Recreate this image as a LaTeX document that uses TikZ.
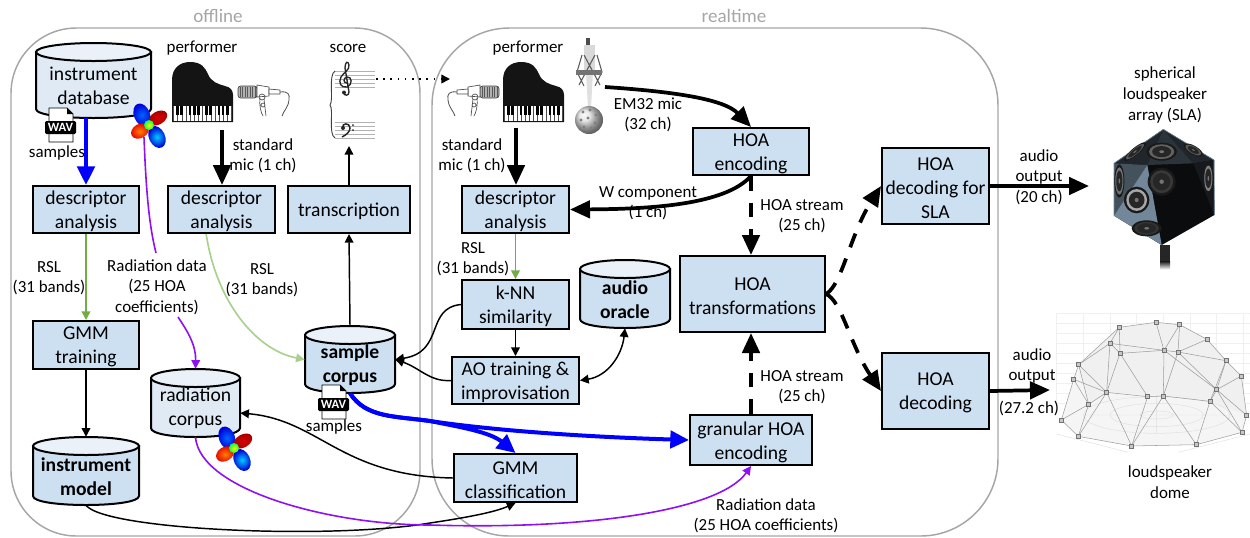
\documentclass[tikz,border=0pt]{standalone}
\usepackage{fontspec}
\setmainfont{Carlito}
\usetikzlibrary{arrows.meta,calc}
\definecolor{boxfill}{HTML}{CDE0F2}
\definecolor{cylpale}{HTML}{DFEAF5}
\definecolor{cyltop}{HTML}{EAF1F9}
\definecolor{frameg}{HTML}{A6A6A6}
\definecolor{blueflow}{HTML}{0000FF}
\definecolor{purpflow}{HTML}{8F10F5}
\definecolor{greenA}{HTML}{70AD47}
\definecolor{greenB}{HTML}{A9D18E}
\definecolor{slaA}{HTML}{20262C}
\definecolor{slaB}{HTML}{44525D}
\definecolor{slaC}{HTML}{72889A}
\definecolor{slaD}{HTML}{15191D}
\definecolor{slaE}{HTML}{0A0C0E}
\definecolor{slaF}{HTML}{2C343B}
\tikzset{
 boxst/.style={draw=black,line width=1.5pt,fill=boxfill,inner sep=0pt},
 boxtxt/.style={inner sep=0pt,align=center,font=\fontsize{14.7}{18}\selectfont},
 lbl/.style={inner sep=0pt,align=center,font=\fontsize{12.7}{15.4}\selectfont},
 framelbl/.style={inner sep=0pt,text=frameg,font=\fontsize{14.3}{17}\selectfont},
 framest/.style={draw=frameg,line width=1.1pt},
 thinarr/.style={draw=black,line width=1.1pt,-{Triangle[length=6.5pt,width=6.5pt]}},
 thinboth/.style={draw=black,line width=1.1pt,{Triangle[length=6.5pt,width=6.5pt]}-{Triangle[length=6.5pt,width=6.5pt]}},
 thickarr/.style={draw=black,line width=2.8pt,-{Triangle[length=15pt,width=13pt]}},
 dasharr/.style={thickarr,dash pattern=on 11pt off 9pt},
 bluearr/.style={draw=blueflow,line width=3pt,-{Triangle[length=14pt,width=13pt]}},
 purparr/.style={draw=purpflow,line width=1.2pt,-{Triangle[length=6.5pt,width=6.5pt]}},
 purpline/.style={draw=purpflow,line width=1.2pt},
 grnA/.style={draw=greenA,line width=1.25pt,-{Triangle[length=6.5pt,width=6.5pt]}},
 grnB/.style={draw=greenB,line width=1.25pt,-{Triangle[length=6.5pt,width=6.5pt]}},
 pics/wavicon/.style={code={
   \filldraw[fill=white,draw=black,line width=.7pt] (4,0) -- (22,0) -- (28,6) -- (28,34) -- (4,34) -- cycle;
   \fill[black] (22,0) -- (28,6) -- (22,6) -- cycle;
   \fill[black,rounded corners=1pt] (0,13) rectangle (31,26);
   \node[inner sep=0pt,text=white,font=\fontsize{9.5}{10}\selectfont\bfseries] (-txt) at (15.5,19.5) {WAV};
 }},
 pics/lobes/.style={code={
   \path[inner color=blue!60!cyan,outer color=blue!85!black] (-7,-10) ellipse [x radius=8,y radius=12,rotate=22];
   \path[inner color=red!85!black,outer color=red!65!black] (9,-7) ellipse [x radius=10,y radius=6.5,rotate=30];
   \path[inner color=orange,outer color=red!90!black] (-9,6) ellipse [x radius=9.5,y radius=7,rotate=30];
   \path[inner color=cyan!80!blue,outer color=blue!85!black] (8,12) ellipse [x radius=8,y radius=11.5,rotate=25];
   \path[inner color=yellow,outer color=green!70!cyan] (0,0) circle [radius=5];
 }},
 pics/pianoicon/.style={code={
   \fill[black!92] (0,60) -- (0,18) .. controls (0,6) and (8,0) .. (18,0) .. controls (30,0) and (33,6) .. (36,12) .. controls (39,20) and (46,22) .. (53,24) .. controls (58,25) and (61,28) .. (61,33) -- (61,60) -- cycle;
   \fill[white] (1.5,44) rectangle (59.5,58.5);
   \foreach \k in {0,...,14}{\draw[black!70,line width=.35pt] ({1.5+\k*4.14},44) -- ({1.5+\k*4.14},58.5);}
   \foreach \k in {1,2,4,5,6,8,9,11,12,13}{\fill[black] ({1.5+\k*4.14-1.3},44) rectangle ({1.5+\k*4.14+1.3},52.5);}
 }},
 pics/micicon/.style={code={
   \filldraw[fill=black!30,draw=black!75,line width=.5pt,rounded corners=2pt] (0,1) rectangle (19,13);
   \foreach \k in {2,4.5,...,17}{\draw[black!65,line width=.35pt] (\k,2) -- (\k,12);}
   \filldraw[fill=white,draw=black!70,line width=.5pt] (19,0) -- (31,2) -- (31,11) -- (19,12) -- cycle;
   \filldraw[fill=white,draw=black!70,line width=.5pt] (31,4) -- (42,5) -- (42,9) -- (31,9) -- cycle;
   \draw[black!70,line width=.6pt] (42,7) .. controls (50,6) and (52,9) .. (51,15) .. controls (50,23) and (46,25) .. (44,31);
   \draw[black!70,line width=.5pt] (24,12) circle [radius=3];
   \draw[black!70,line width=.5pt] (22,13) .. controls (21,20) and (23,28) .. (25,31) (26,14) -- (28,31) (25,20) circle [radius=2];
 }}
}
\newcommand{\pxbox}[6]{%
 \pgfmathsetmacro\cxx{(#2+#4)/2}\pgfmathsetmacro\cyy{(#3+#5)/2}%
 \pgfmathsetmacro\ww{(#4-#2)*.75}\pgfmathsetmacro\hh{(#5-#3)*.75}%
 \node[boxst,minimum width=\ww pt,minimum height=\hh pt] (#1) at (\cxx,\cyy) {};
 \node[boxtxt] (#1-t) at ([yshift=-1.6pt]#1.center) {#6};}
\newcommand{\pxcyl}[8]{%
 \pgfmathsetmacro\cxx{(#4+#6)/2}\pgfmathsetmacro\cyy{(#5+#7)/2}%
 \pgfmathsetmacro\ww{(#6-#4)*.75}\pgfmathsetmacro\hh{(#7-#5)*.75}%
 \pgfmathsetmacro\yt{#5+9}\pgfmathsetmacro\yb{#7-9}\pgfmathsetmacro\yc{#7+3}%
 \filldraw[fill=#1,draw=black,line width=1.5pt] (#4,\yt) -- (#4,\yb) .. controls (#4,\yc) and (#6,\yc) .. (#6,\yb) -- (#6,\yt) -- cycle;
 \filldraw[fill=#2,draw=black,line width=1.5pt] (\cxx,\yt) ellipse [x radius=\cxx-#4,y radius=9];
 \node[inner sep=0pt,minimum width=\ww pt,minimum height=\hh pt] (#3) at (\cxx,\cyy) {};
 \node[boxtxt] (#3-t) at ([yshift=-4pt]#3.center) {#8};}
\newcommand{\spkr}[6]{%
 \fill[black!90,rotate around={#5:(#1,#2)}] (#1,#2) ellipse [x radius=#3,y radius=#4];
 \fill[#6,rotate around={#5:(#1,#2)}] (#1,#2) ellipse [x radius=#3*.82,y radius=#4*.82];
 \fill[black!85,rotate around={#5:(#1,#2)}] (#1,#2) ellipse [x radius=#3*.62,y radius=#4*.62];
 \fill[black!55,rotate around={#5:(#1,#2)}] (#1,#2) ellipse [x radius=#3*.16,y radius=#4*.16];}
\begin{document}
\begin{tikzpicture}[x=0.75pt,y=-0.75pt]
\useasboundingbox (0,0) rectangle (1250,537);
% frames
\draw[framest,rounded corners=49pt] (11,28) rectangle (420,536);
\draw[framest,rounded corners=58pt] (432,28) rectangle (998,536);
\node[framelbl] (offl) at (218,16) {offline};
\node[framelbl] (real) at (734,16) {realtime};

% pictures
\pic at (172,62) {pianoicon};
\pic at (503,62) {pianoicon};
\pic at (238,85) {micicon};
\pic[xscale=-1] at (499,85) {micicon};
% score
\foreach \yy in {71,75,79,83,87,122,126,130,134,138}{\draw[black!30,line width=.4pt] (335,\yy) -- (375,\yy);}
\draw[black!75,line width=.7pt] (335,71) .. controls (328,75) and (334,100) .. (330,105) .. controls (334,110) and (328,134) .. (335,138);
\draw[black!85,line width=1pt] (347,83) .. controls (343,83) and (343,78) .. (347,77) .. controls (352,76) and (353,85) .. (347,87) .. controls (341,88) and (338,83) .. (341,77) .. controls (343,73) and (350,70) .. (349,65) .. controls (348,60) and (345,62) .. (345,68) -- (349,92) .. controls (349,96) and (344,96) .. (344,93);
\fill[black!85] (344,92.5) circle [radius=2];
\draw[black!85,line width=1.1pt] (343,128) .. controls (341,123) and (350,122) .. (350,128) .. controls (350,132) and (346,135) .. (342,137);
\fill[black!85] (343,128) circle [radius=2] (353,125) circle [radius=1] (353,130) circle [radius=1];
% EM32 microphone
\fill[black!15] (584,45) rectangle (595,72);
\fill[black!12] (586,72) -- (593,72) -- (591,108) -- (588,108) -- cycle;
\fill[black!70] (586,38) rectangle (590,45);
\draw[black!65,line width=.8pt] (582,55) -- (577,72) -- (584,86) (597,55) -- (602,72) -- (595,86) (584,55) -- (600,85) (595,55) -- (579,85);
\fill[black!55] (576,70) rectangle (602,75);
\shade[ball color=black!12] (589,120) circle [radius=14];
\foreach \a/\b in {583/112,590/110,596/115,581/120,588/118,595/123,584/127,591/128}{\fill[black!50] (\a,\b) circle [radius=1.6];}
% SLA
\begin{scope}[shift={(860,50)},scale=1/3]
 \fill[black!85] (900,585) rectangle (930,635);
 \shade[top color=black!85,bottom color=white] (900,635) rectangle (930,658);
 \fill[slaE] (910,238) -- (1062,330) -- (1063,495) -- (905,585) -- (762,497) -- (762,340) -- cycle;
 \fill[slaA] (910,238) -- (762,340) -- (862,345) -- cycle;
 \fill[slaB] (762,340) -- (862,345) -- (762,497) -- cycle;
 \fill[slaC] (862,345) -- (762,497) -- (905,585) -- cycle;
 \fill[slaF] (910,238) -- (862,345) -- (1000,340) -- cycle;
 \fill[slaA] (910,238) -- (1062,330) -- (1000,340) -- cycle;
 \fill[slaD] (1000,340) -- (1062,330) -- (1063,495) -- cycle;
 \draw[slaC,line width=.5pt] (910,238) -- (1062,330) -- (1063,495) (910,238) -- (762,340) -- (762,497);
 \spkr{905}{305}{46}{27}{0}{black!62}
 \spkr{905}{395}{42}{42}{0}{black!78}
 \spkr{830}{450}{38}{40}{0}{black!35}
 \spkr{778}{393}{15}{50}{0}{black!55}
 \spkr{1045}{385}{15}{47}{0}{black!50}
 \spkr{1000}{300}{32}{13}{-30}{black!65}
 \spkr{825}{305}{42}{11}{40}{black!65}
 \spkr{860}{535}{45}{24}{0}{black!80}
\end{scope}
% dome
\begin{scope}[shift={(860,290)},scale=1/3]
 \foreach \gy in {70,100,...,340}{\draw[black!6,line width=.3pt] (590,\gy) -- (1170,\gy);}
 \foreach \gx in {590,670,...,1170}{\draw[black!6,line width=.3pt] (\gx,70) -- (\gx,340);}
 \fill[black!4] (604,390) -- (641,268) -- (656,224) -- (750,160) -- (778,112) -- (888,97) -- (959,104) -- (1041,148) -- (1098,212) -- (1144,258) -- (1160,376) -- (1146,427) -- (1009,464) -- (815,468) -- (655,439) -- cycle;
 \fill[black!6] (656,224) -- (778,112) -- (888,97) -- (959,104) -- (1041,148) -- (1098,212) -- (1144,258) -- (1160,376) -- (1050,334) -- (910,318) -- (740,307) -- (686,343) -- cycle;
 \draw[black!12,line width=.35pt] (590,432) -- (805,487) (955,487) -- (1170,432);
 \draw[black!12,line width=.35pt] (890,375) ellipse [x radius=220,y radius=55] (890,375) ellipse [x radius=140,y radius=35] (890,375) ellipse [x radius=50,y radius=12] (670,375) -- (1110,375) (890,320) -- (890,430);
 \foreach \n/\cx/\cy in {a/778/112,b/888/97,c/959/104,d/1041/148,e/1098/212,f/1144/258,g/1160/376,h/1146/427,i/1009/464,j/815/468,k/655/439,l/604/390,m/641/268,n/656/224,o/750/160,p/780/190,q/912/181,r/954/186,s/1070/299,t/1050/334,u/910/318,v/863/320,w/740/307,y/686/343}{\coordinate (d\n) at (\cx,\cy);}
 \foreach \p/\q in {a/b,b/c,c/d,d/e,e/f,f/g,g/h,h/i,i/j,j/k,k/l,l/m,m/n,n/a,n/o,o/a,o/p,a/p,o/q,p/q,q/r,b/q,c/r,c/q,d/r,r/e,q/s,r/s,e/s,e/t,s/t,f/s,g/s,h/s,h/t,i/t,i/u,j/u,j/v,k/w,k/y,l/y,m/w,m/y,y/w,n/w,o/w,w/p,p/v,v/u,u/q,u/r,u/t,w/v,j/w,y/n}{\draw[black!38,line width=.4pt] (d\p) -- (d\q);}
 \foreach \n in {a,b,c,d,e,f,g,h,i,j,k,l,m,n,o,p,q,r,s,t,u,v,w,y}{\filldraw[fill=black!22,draw=black!55,line width=.3pt] ($(d\n)+(-6,-6)$) rectangle ($(d\n)+(6,6)$);}
\end{scope}

% process boxes
\pxbox{descA}{33}{186}{139}{233}{descriptor\\analysis}
\pxbox{descB}{168}{186}{275}{233}{descriptor\\analysis}
\pxbox{transc}{288}{186}{410}{233}{transcription}
\pxbox{gmmt}{33}{321}{139}{369}{GMM\\training}
\pxbox{hoaenc}{693}{128}{809}{175}{HOA\\encoding}
\pxbox{descC}{462}{186}{569}{233}{descriptor\\analysis}
\pxbox{knn}{462}{280}{569}{329}{k-NN\\similarity}
\pxbox{ao}{452}{357}{579}{404}{AO training \&\\improvisation}
\pxbox{trans}{680}{256}{825}{332}{HOA\\transformations}
\pxbox{gran}{690}{415}{812}{465}{granular HOA\\encoding}
\pxbox{gmmc}{454}{454}{577}{502}{GMM\\classification}
\pxbox{decsla}{882}{148}{989}{224}{HOA\\decoding for\\SLA}
\pxbox{dec}{882}{353}{989}{429}{HOA\\decoding}
% data stores
\pxcyl{cylpale}{cyltop}{db}{36}{43}{151}{118}{instrument\\database}
\pxcyl{cylpale}{cyltop}{rad}{151}{369}{240}{437}{radiation\\corpus}
\pxcyl{boxfill}{cyltop}{imodel}{33}{437}{139}{505}{\textbf{instrument}\\\textbf{model}}
\pxcyl{boxfill}{cyltop}{scorp}{305}{326}{395}{393}{\textbf{sample}\\\textbf{corpus}}
\pxcyl{boxfill}{cyltop}{oracle}{580}{260}{670}{328}{\textbf{audio}\\\textbf{oracle}}
\pic (wavA) at (45,108) {wavicon};
\pic (wavB) at (318,385) {wavicon};
\pic at (149,125) {lobes};
\pic at (234,448) {lobes};

% labels
\node[lbl] (pfA) at (202,48) {performer};
\node[lbl] (sc) at (348,48) {score};
\node[lbl] (pfB) at (528,48) {performer};
\node[lbl] (mA) at (263,156) {standard\\mic (1 ch)};
\node[lbl] (mB) at (472,156) {standard\\mic (1 ch)};
\node[lbl] (saA) at (57,153) {samples};
\node[lbl] (saB) at (334,427) {samples};
\node[lbl] (rsA) at (49,278) {RSL\\(31 bands)};
\node[lbl] (rsB) at (262,280) {RSL\\(31 bands)};
\node[lbl] (rsC) at (473,259) {RSL\\(31 bands)};
\node[lbl] (raA) at (157,287) {Radiation data\\(25 HOA\\coefficients)};
\node[lbl] (em) at (648,115) {EM32 mic\\(32 ch)};
\node[lbl] (wc) at (648,203) {W component\\(1 ch)};
\node[lbl] (hsA) at (802,216) {HOA stream\\(25 ch)};
\node[lbl] (hsB) at (802,387) {HOA stream\\(25 ch)};
\node[lbl] (auA) at (1039,177) {audio\\output\\(20 ch)};
\node[lbl] (auB) at (1032,366) {audio\\output};
\node[lbl] (auC) at (1029,408) {(27.2 ch)};
\node[lbl] (sl) at (1165,95) {spherical\\loudspeaker\\array (SLA)};
\node[lbl] (dm) at (1170,482) {loudspeaker\\dome};
\node[lbl] (raB) at (766,516) {Radiation data\\(25 HOA coefficients)};

% free ends
\coordinate (lobA) at (144,137);
\coordinate (raStart) at (156,253);
\coordinate (raCont) at (178,317);
\coordinate (scoreIn) at (349,146);
\coordinate (scoreOut) at (376,79);
\coordinate (perfIn) at (450,79);
\coordinate (pnA) at (222,130);
\coordinate (pnB) at (516,128);
\coordinate (emOut) at (605,87);
\coordinate (slaIn) at (1089,186);
\coordinate (domeIn) at (1050,390);
\coordinate (blueMid) at (430,421);

% connectors
\draw[bluearr] (descA.north |- db.south) -- (descA.north);
\draw[purpline] (lobA) .. controls (146,190) and (149,225) .. (raStart);
\draw[purparr] (raCont) .. controls (188,332) and (196,345) .. (rad.north);
\draw[grnA] (descA.south) -- (gmmt.north);
\draw[thinarr] (gmmt.south) -- (imodel.north);
\draw[thickarr] (pnA) -- (pnA |- descB.north);
\draw[grnB] ([xshift=-11.5pt]descB.south) .. controls (216,300) and (255,350) .. (scorp.west);
\draw[thinarr] (transc.north) -- (scoreIn);
\draw[thinarr] (scorp.north) -- (transc.south);
\draw[draw=black,line width=1.2pt,dash pattern=on 1.2pt off 4.2pt,-{Triangle[length=6.5pt,width=6.5pt]}] (scoreOut) -- (perfIn);
\draw[thickarr] (pnB) -- (pnB |- descC.north);
\draw[thickarr] (emOut) .. controls (680,92) and (725,100) .. (hoaenc.north);
\draw[thickarr] (hoaenc.south) .. controls (725,205) and (650,209) .. (descC.east);
\draw[dasharr] (hoaenc.south) -- (hoaenc.south |- trans.north);
\draw[dasharr] (gran.north) -- (gran.north |- trans.south);
\draw[grnA] (descC.south) -- (knn.north);
\draw[thinarr] (knn.south) -- (ao.north);
\draw[thinarr] (knn.west) .. controls (425,308) and (445,352) .. (scorp.east);
\draw[thinarr] (ao.west) .. controls (430,382) and (420,368) .. (scorp.east);
\draw[thinboth] (ao.east) .. controls (608,376) and (622,355) .. (oracle.south);
\draw[thinarr] (gmmc.west) .. controls (340,476) and (320,420) .. ([yshift=-7.5pt]rad.east);
\draw[thinarr] (imodel.south) .. controls (105,530) and (330,540) .. (430,523) .. controls (470,517) and (495,512) .. (gmmc.south);
\draw[purparr] (rad.south) .. controls (200,490) and (330,525) .. (430,525) .. controls (590,530) and (720,510) .. (gran.south);
\draw[bluearr] (scorp.south) .. controls (366,418) and (395,416) .. (blueMid) .. controls (460,427) and (490,432) .. (gmmc.north);
\draw[bluearr] (scorp.south) .. controls (366,418) and (395,416) .. (blueMid) .. controls (510,433) and (620,438) .. (gran.west);
\draw[dasharr] (trans.east) .. controls (842,285) and (850,235) .. (decsla.west);
\draw[dasharr] (trans.east) .. controls (842,301) and (850,345) .. (dec.west);
\draw[thickarr] (decsla.east) -- (slaIn);
\draw[thickarr] (dec.east) -- (domeIn);
\end{tikzpicture}
\end{document}
